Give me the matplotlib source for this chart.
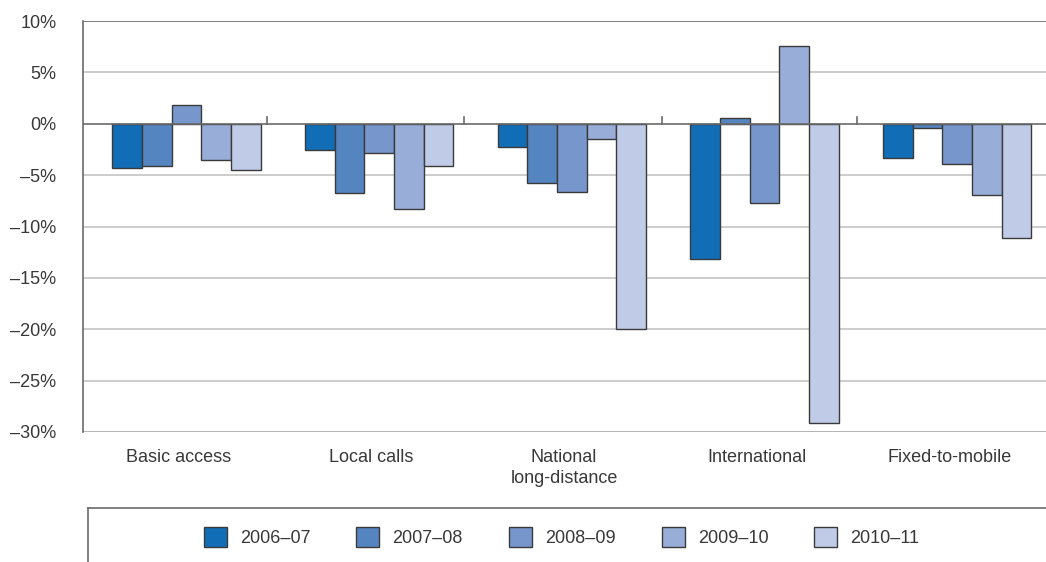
import numpy as np
import matplotlib.pyplot as plt
from matplotlib.lines import Line2D
from matplotlib.patches import Patch

plt.rcParams['font.family'] = ['Liberation Sans', 'DejaVu Sans']

categories = ['Basic access', 'Local calls', 'National\nlong-distance', 'International', 'Fixed-to-mobile']
years = ['2006–07', '2007–08', '2008–09', '2009–10', '2010–11']
colors = ['#116db6', '#5585c1', '#7797cc', '#98aed8', '#c0cbe7']

# % change per year, one list per category
basic_access = [-4.3, -4.1, 1.8, -3.5, -4.5]
local_calls = [-2.6, -6.7, -2.8, -8.3, -4.1]
national_ld = [-2.3, -5.8, -6.6, -1.5, -20.0]
international = [-13.2, 0.6, -7.7, 7.6, -29.1]
fixed_to_mobile = [-3.3, -0.45, -3.9, -6.9, -11.1]

values = np.array([basic_access, local_calls, national_ld, international, fixed_to_mobile])

fig = plt.figure(figsize=(10.46, 5.62), dpi=100)
ax = fig.add_axes([83/1046, 1 - 432/562, 1 - 83/1046, (432 - 21)/562])

x = np.arange(len(categories))
w = 0.154
for k in range(len(years)):
    ax.bar(x + (k - 2) * w, values[:, k], width=w, color=colors[k],
           edgecolor='#3a3a3a', linewidth=1.0, zorder=3)

# grid
for y in [-25, -20, -15, -10, -5, 5]:
    ax.axhline(y, color='#c4c4c4', lw=1.2, zorder=1)
ax.axhline(-30, color='#a8a8a8', lw=1.2, zorder=1)
ax.axhline(10, color='#6a6a6a', lw=1.2, zorder=1)
ax.axhline(0, color='#6a6a6a', lw=1.2, zorder=4)

# small category divider ticks on the zero line
for d in [0.42, 1.44, 2.47, 3.48]:
    ax.plot([d, d], [0, 0.65], color='#6a6a6a', lw=1.2, zorder=4)

ax.set_xlim(-0.537, 4.461)
ax.set_ylim(-30, 10)
ax.set_yticks(np.arange(-30, 11, 5))
ax.set_yticklabels([('–%d%%' % -v) if v < 0 else '%d%%' % v for v in range(-30, 11, 5)])
ax.set_xticks(x - 0.04)
ax.set_xticklabels(categories, linespacing=1.3)
ax.tick_params(axis='y', length=0, pad=19, labelsize=13, labelcolor='#383838')
ax.tick_params(axis='x', length=0, pad=12, labelsize=13, labelcolor='#383838')

for s in ['top', 'right', 'bottom']:
    ax.spines[s].set_visible(False)
ax.spines['left'].set_color('#6a6a6a')
ax.spines['left'].set_linewidth(1.2)

handles = [Patch(facecolor=c, edgecolor='#3a3a3a', linewidth=1.0) for c in colors]
fig.legend(handles, years, loc='center', bbox_to_anchor=(561.5/1046, 1 - 537/562),
           ncol=5, frameon=False, fontsize=13, handlelength=1.28, handleheight=1.28,
           handletextpad=0.72, columnspacing=2.55, labelcolor='#383838')

# legend box lines
fig.add_artist(Line2D([88/1046, 1], [1 - 508/562, 1 - 508/562], color='#6a6a6a', lw=1.2))
fig.add_artist(Line2D([88/1046, 88/1046], [0, 1 - 508/562], color='#6a6a6a', lw=1.2))

fig.savefig('out.png', dpi=100)
